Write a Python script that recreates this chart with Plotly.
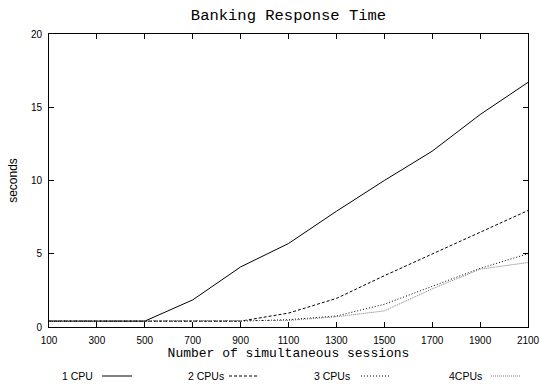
import plotly.graph_objects as go

sessions = [100, 300, 500, 700, 900, 1100, 1300, 1500, 1700, 1900, 2100]
cpu1 = [0.4, 0.4, 0.4, 1.85, 4.1, 5.7, 7.9, 10.0, 12.0, 14.5, 16.7]
cpu2 = [0.4, 0.4, 0.4, 0.4, 0.4, 0.95, 1.95, 3.5, 5.0, 6.5, 7.95]
cpu3 = [0.4, 0.4, 0.4, 0.4, 0.4, 0.5, 0.75, 1.55, 2.8, 4.0, 5.0]
cpu4 = [0.4, 0.4, 0.4, 0.4, 0.4, 0.45, 0.7, 1.1, 2.6, 3.95, 4.4]
names = ["1 CPU", "2 CPUs", "3 CPUs", "4CPUs"]
series = [cpu1, cpu2, cpu3, cpu4]
colors = ["#000000", "#000000", "#000000", "#777777"]
dashes = ["solid", "3px,2px", "1px,2px", "1px,1px"]

W, H = 542, 386
L, R, T, B = 49, 14, 34, 59
PW = W - L - R
PH = H - T - B

fig = go.Figure()
for nm, ys, c, d in zip(names, series, colors, dashes):
    fig.add_trace(go.Scatter(x=sessions, y=ys, mode="lines", name=nm,
                             line=dict(color=c, width=1, dash=d), showlegend=False))

# manual legend (label then line sample), as in the reference
leg_text_right = [95, 226, 352, 484]
leg_line = [(102, 132), (229, 257), (361, 389), (491, 521)]
leg_y = -(376 - (H - B)) / PH
shapes = []
annotations = []
for i, (nm, c, d) in enumerate(zip(names, colors, dashes)):
    annotations.append(dict(text=nm, x=(leg_text_right[i] - L) / PW, xref="paper",
                            y=leg_y, yref="paper", showarrow=False,
                            xanchor="right", yanchor="middle",
                            font=dict(family="Liberation Sans", size=10.5, color="#000")))
    a, b = leg_line[i]
    shapes.append(dict(type="line", xref="paper", yref="paper",
                       x0=(a - L) / PW, x1=(b - L) / PW, y0=leg_y, y1=leg_y,
                       line=dict(color=c, width=1, dash=d)))

fig.update_layout(
    width=W, height=H,
    margin=dict(l=L, r=R, t=T, b=B, autoexpand=False),
    paper_bgcolor="white", plot_bgcolor="white",
    title=dict(text="Banking Response Time", x=(L + PW / 2) / W, xanchor="center",
               y=1 - 15 / H, yanchor="middle",
               font=dict(family="Liberation Mono", size=15.5, color="#000")),
    xaxis=dict(range=[100, 2100], tickmode="array", tickvals=sessions, automargin=False,
               ticks="inside", ticklen=5, tickcolor="#000", mirror="ticks",
               ticklabelstandoff=4,
               showline=True, linecolor="#000", linewidth=1, showgrid=False, zeroline=False,
               tickfont=dict(family="Liberation Sans", size=10, color="#000"),
               title=dict(text="Number of simultaneous sessions", standoff=2,
                          font=dict(family="Liberation Mono", size=13, color="#000"))),
    yaxis=dict(range=[0, 20], tickmode="array", tickvals=[0, 5, 10, 15, 20], automargin=False,
               ticks="inside", ticklen=5, tickcolor="#000", mirror="ticks",
               ticklabelstandoff=4,
               showline=True, linecolor="#000", linewidth=1, showgrid=False, zeroline=False,
               tickfont=dict(family="Liberation Sans", size=10, color="#000"),
               title=dict(text="seconds", standoff=10,
                          font=dict(family="Liberation Sans", size=12, color="#000"))),
    shapes=shapes, annotations=annotations,
)
fig.write_html("out.html")
